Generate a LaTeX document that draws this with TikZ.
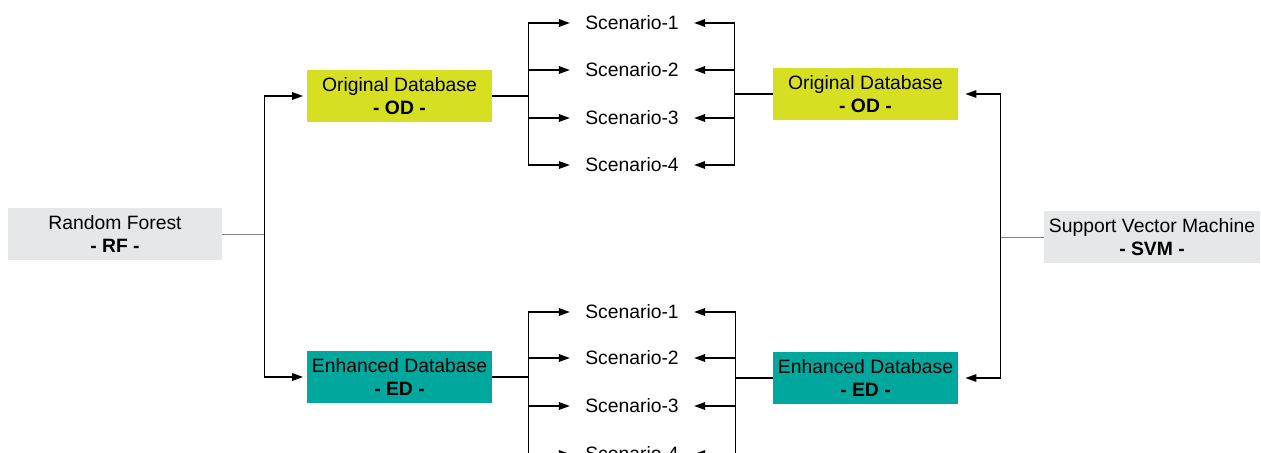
\documentclass[tikz,border=0pt]{standalone}
\usepackage{fontspec}
\setmainfont{Liberation Sans}
\usetikzlibrary{arrows.meta}
\definecolor{odgreen}{HTML}{D7DF23}
\definecolor{edteal}{HTML}{00A79D}
\definecolor{mgray}{HTML}{E6E7E8}
\begin{document}
\begin{tikzpicture}[x=0.02cm, y=-0.02cm,
  font=\fontsize{11}{13}\selectfont,
  box/.style={align=center, inner sep=0pt, minimum height=1.05cm},
  scen/.style={inner xsep=0.3cm, inner ysep=1pt},
  con/.style={line width=0.85pt},
  arr/.style={con, -{Triangle[length=2.2mm,width=1.5mm]}},
  link/.style={gray, line width=0.5pt}]

  \useasboundingbox (0,0) rectangle (1261,453);

  \node[box, fill=mgray, minimum width=4.28cm] (rf) at (115,234) {Random Forest\\\textbf{- RF -}};
  \node[box, fill=mgray, minimum width=4.32cm] (svm) at (1152,237) {Support Vector Machine\\\textbf{- SVM -}};

  \node[box, fill=odgreen, minimum width=3.7cm] (odl) at (399.5,96) {Original Database\\\textbf{- OD -}};
  \node[box, fill=odgreen, minimum width=3.7cm] (odr) at (865.5,94) {Original Database\\\textbf{- OD -}};
  \node[box, fill=edteal, minimum width=3.7cm] (edl) at (399.5,377) {Enhanced Database\\\textbf{- ED -}};
  \node[box, fill=edteal, minimum width=3.7cm] (edr) at (865.5,378) {Enhanced Database\\\textbf{- ED -}};

  \foreach \i/\y in {1/23,2/70,3/118,4/165}
    \node[scen] (o\i) at (632,\y) {Scenario-\i};
  \foreach \i/\y in {1/312,2/358,3/406,4/454}
    \node[scen] (e\i) at (632,\y) {Scenario-\i};

  % models to databases
  \path (rf.east) ++(42,0) coordinate (jrf);
  \draw[link] (rf.east) -- (jrf);
  \draw[arr, shorten >=2pt] (jrf) |- (odl);
  \draw[arr, shorten >=2pt] (jrf) |- (edl);

  \path (svm.west) ++(-43,0) coordinate (jsvm);
  \draw[link] (svm.west) -- (jsvm);
  \draw[arr, shorten >=4pt] (jsvm) |- (odr);
  \draw[arr, shorten >=4pt] (jsvm) |- (edr);

  % databases to scenarios
  \path (odl.east) ++(36,0) coordinate (jodl);
  \path (odr.west) ++(-38,0) coordinate (jodr);
  \path (edl.east) ++(36,0) coordinate (jedl);
  \path (edr.west) ++(-37,0) coordinate (jedr);
  \draw[con] (odl.east) -- (jodl);
  \draw[con] (odr.west) -- (jodr);
  \draw[con] (edl.east) -- (jedl);
  \draw[con] (edr.west) -- (jedr);
  \foreach \i in {1,...,4} {
    \draw[arr] (jodl) |- (o\i);
    \draw[arr] (jodr) |- (o\i);
    \draw[arr] (jedl) |- (e\i);
    \draw[arr] (jedr) |- (e\i);
  }

\end{tikzpicture}
\end{document}
